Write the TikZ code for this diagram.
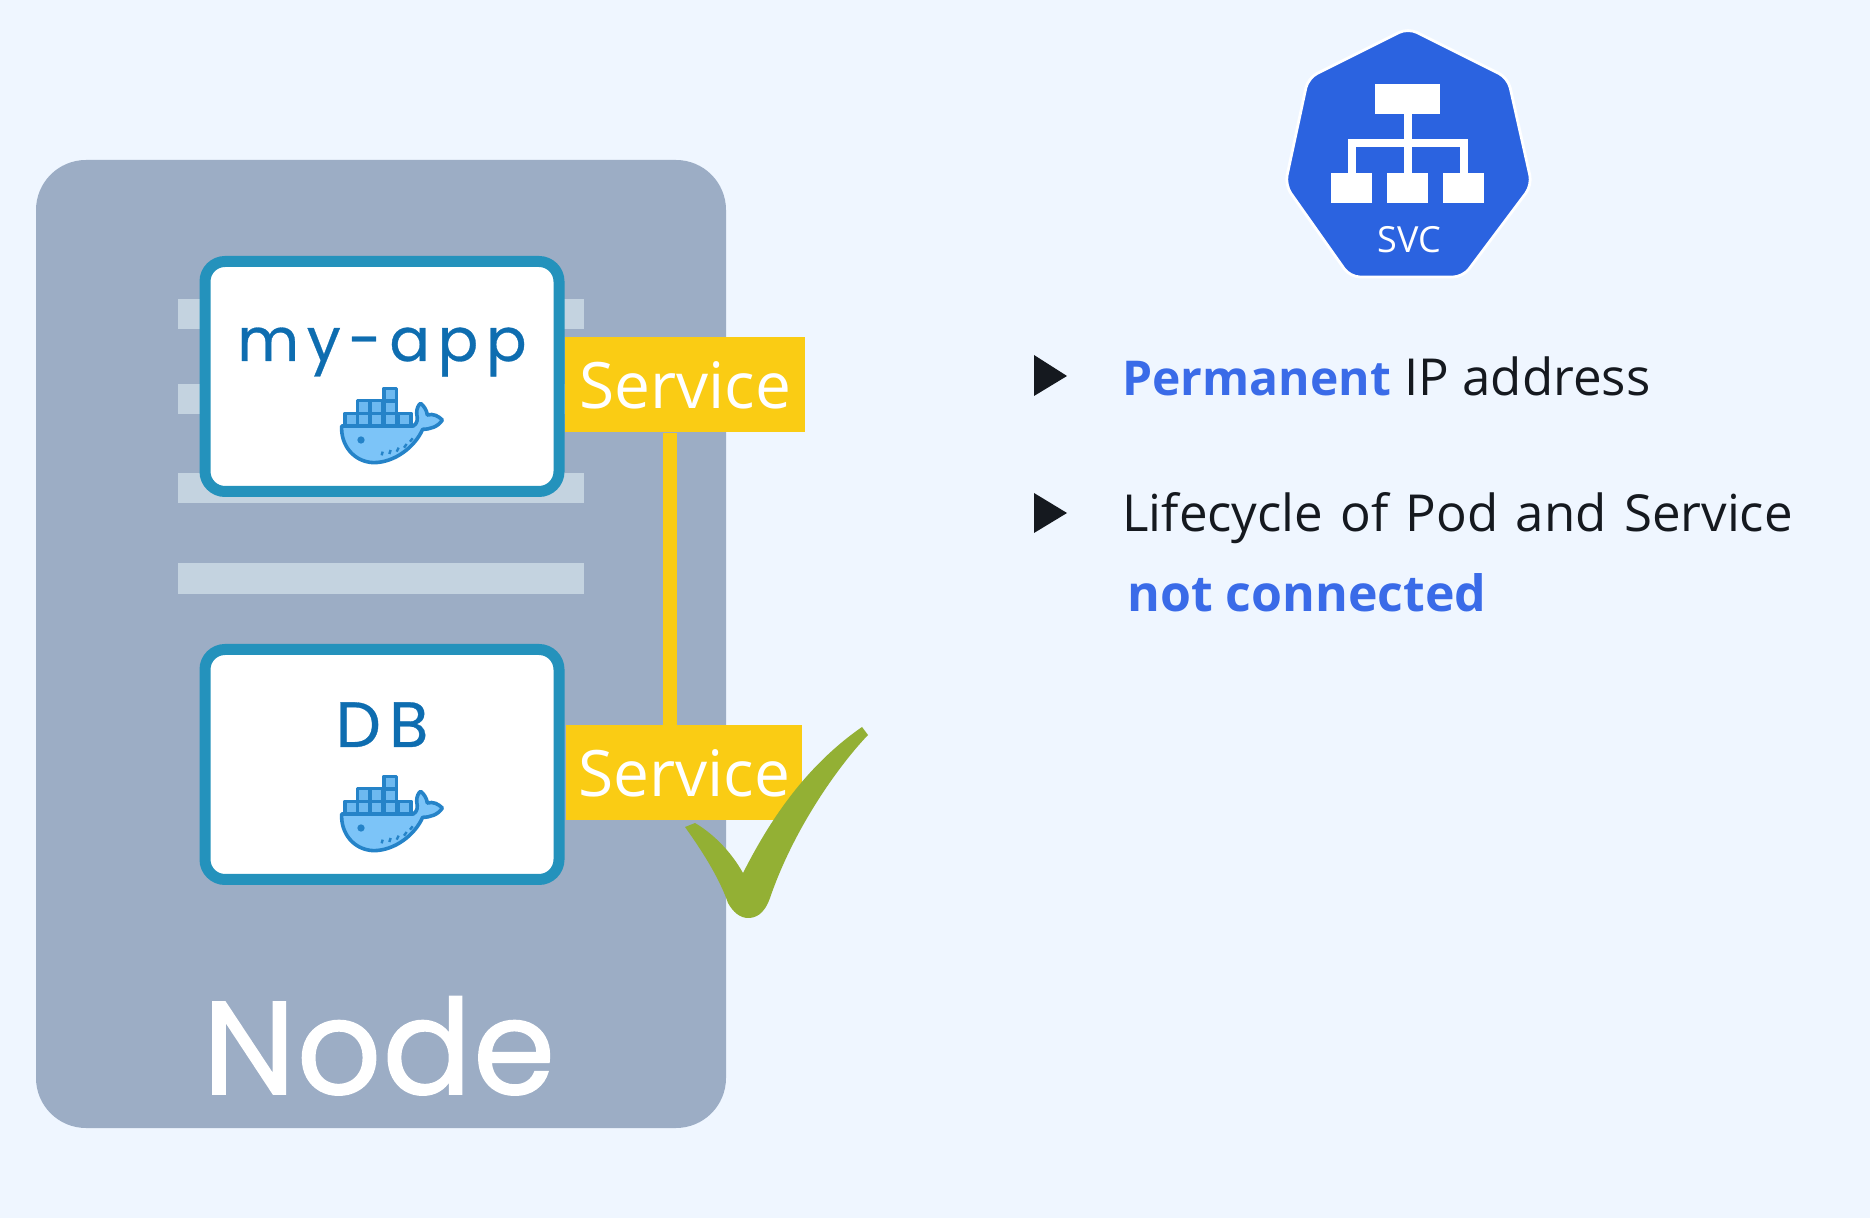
\documentclass[tikz,border=0pt]{standalone}
\usepackage{fontspec}
\setmainfont{Open Sans}
\newfontfamily\widefont[FakeBold=1.2,LetterSpace=1]{Poppins}
\newfontfamily\appfont[FakeBold=.5,LetterSpace=13]{Poppins}
\newfontfamily\loosefont[WordSpace=1.3]{Open Sans}
\usepackage{xcolor}
\usepackage{tikz}
\usetikzlibrary{positioning}
\definecolor{page}{HTML}{EFF6FF}
\definecolor{slate}{HTML}{9CADC5}
\definecolor{bar}{HTML}{C4D3E0}
\definecolor{frame}{HTML}{2492BC}
\definecolor{amber}{HTML}{FACC14}
\definecolor{leaf}{HTML}{93B034}
\definecolor{navy}{HTML}{0E6DB0}
\definecolor{hull}{HTML}{7CC4F8}
\definecolor{crate}{HTML}{6DB9F0}
\definecolor{outline}{HTML}{2583C8}
\definecolor{kube}{HTML}{2B63E0}
\definecolor{accent}{HTML}{3A6BE8}
\definecolor{ink}{HTML}{15191F}
\tikzset{appbox/.style={draw=frame,line width=5.5pt,rounded corners=10pt,fill=white,minimum width=177pt,minimum height=115pt,inner sep=0pt},servicebox/.style={fill=amber,text=white,font=\fontsize{32}{36}\selectfont,minimum width=120pt,minimum height=47.5pt,inner sep=0pt,anchor=north west},applabel/.style={text=navy,font=\appfont\fontsize{30}{38}\selectfont,anchor=base,inner sep=0pt},bullettext/.style={text=ink,font=\fontsize{25.5}{30}\selectfont,anchor=base west,inner sep=0pt},striped/.style={fill=bar},tick/.style={fill=ink},link/.style={draw=amber,line width=7pt},wire/.style={draw=white,line width=3.6pt},chip/.style={fill=white}}
\tikzset{whale/.pic={
\begin{scope}[draw=outline,line width=1.8pt,line join=round]
\foreach \cx/\cy in {75/130,112/130,150/130,192/130,235/130,112/92,150/92,192/92,192/55}
\draw[fill=crate] (\cx,\cy) rectangle ++(38,38);
\draw[fill=hull] (65,168)--(280,168) .. controls (292,160) and (294,150) .. (290,130) .. controls (290,115) and (295,105) .. (302,100) .. controls (312,108) and (320,120) .. (322,135) .. controls (340,130) and (355,138) .. (367,150) .. controls (355,170) and (330,178) .. (308,178) .. controls (285,230) and (225,278) .. (160,278) .. controls (100,275) and (62,225) .. (65,168)--cycle;
\fill[outline] (123,210) circle[radius=11];
\foreach \dx/\dy/\ex/\ey in {185/256/188/245,208/252/212/240,230/245/236/233,252/233/260/222,270/215/278/205}
\draw[line width=1.2pt] (\dx,\dy)--(\ex,\ey);
\end{scope}
}}
\begin{document}
\begin{tikzpicture}[x=.5pt,y=-.5pt]
\fill[page] (0,0) rectangle (1870,1218);
\useasboundingbox (0,0) rectangle (1870,1218);
\fill[slate,rounded corners=25pt] (36,160) rectangle (726,1128);
\fill[striped] (178,299) rectangle (584,329);
\fill[striped] (178,384) rectangle (584,414);
\fill[striped] (178,473) rectangle (584,503);
\fill[striped] (178,563) rectangle (584,594);
\node[appbox] (myapp) at (382,376.5) {};
\node[appbox] (db) at (382,764.5) {};
\node[applabel] (myapplabel) at (382,361) {my-app};
\node[applabel,font=\appfont\fontsize{32}{38}\selectfont] (dblabel) at (382,747) {DB};
\pic[scale=1/3] at (320,370) {whale};
\pic[scale=1/3] at (320,758) {whale};
\node[servicebox] (serviceone) at (565,337) {Service};
\node[servicebox,minimum width=118pt] (servicetwo) at (566,725) {Service};
\coordinate (busx) at (670,0);
\draw[link] (busx |- serviceone.south)--(busx |- servicetwo.north);
\fill[leaf] (685,827)--(695,823) .. controls (712,833) and (730,850) .. (743,873) .. controls (765,830) and (800,770) .. (862,727)--(868,735) .. controls (842,762) and (795,825) .. (770,898) .. controls (764,915) and (755,918) .. (748,918) .. controls (740,918) and (733,912) .. (728,903) .. controls (720,880) and (705,855) .. (685,827)--cycle;
\node[text=white,font=\widefont\fontsize{66}{72}\selectfont,anchor=base,inner sep=0pt] (nodelabel) at (379,1094) {Node};
% service icon
\draw[draw=white,line width=1.4pt,fill=kube,rounded corners=5pt] (1408,28)--(1508,78)--(1532,185)--(1463,277)--(1350,277)--(1285,185)--(1308,78)--cycle;
\draw[wire] (1408,114)--(1408,173);
\draw[wire] (1352,173)--(1352,143)--(1464,143)--(1464,173);
\fill[chip] (1375,84) rectangle (1440,114);
\fill[chip] (1331,173) rectangle (1372,203);
\fill[chip] (1387,173) rectangle (1428,203);
\fill[chip] (1443,173) rectangle (1484,203);
\node[text=white,font=\fontsize{18}{20}\selectfont,inner sep=0pt] (svc) at (1409,240) {SVC};
% text on the right
\fill[tick] (1034,355)--(1067,376)--(1034,396)--cycle;
\fill[tick] (1034,493)--(1067,513)--(1034,533)--cycle;
\node[bullettext] (permanent) at (1122,396) {\textcolor{accent}{\fontsize{24}{30}\selectfont\bfseries Permanent} IP address};
\node[bullettext,font=\loosefont\fontsize{25.5}{30}\selectfont] (lifecycle) at (1122,532) {Lifecycle of Pod and Service};
\node[bullettext,text=accent,font=\fontsize{25}{30}\selectfont\bfseries] (connected) at (1127,612) {not connected};
\end{tikzpicture}
\end{document}
